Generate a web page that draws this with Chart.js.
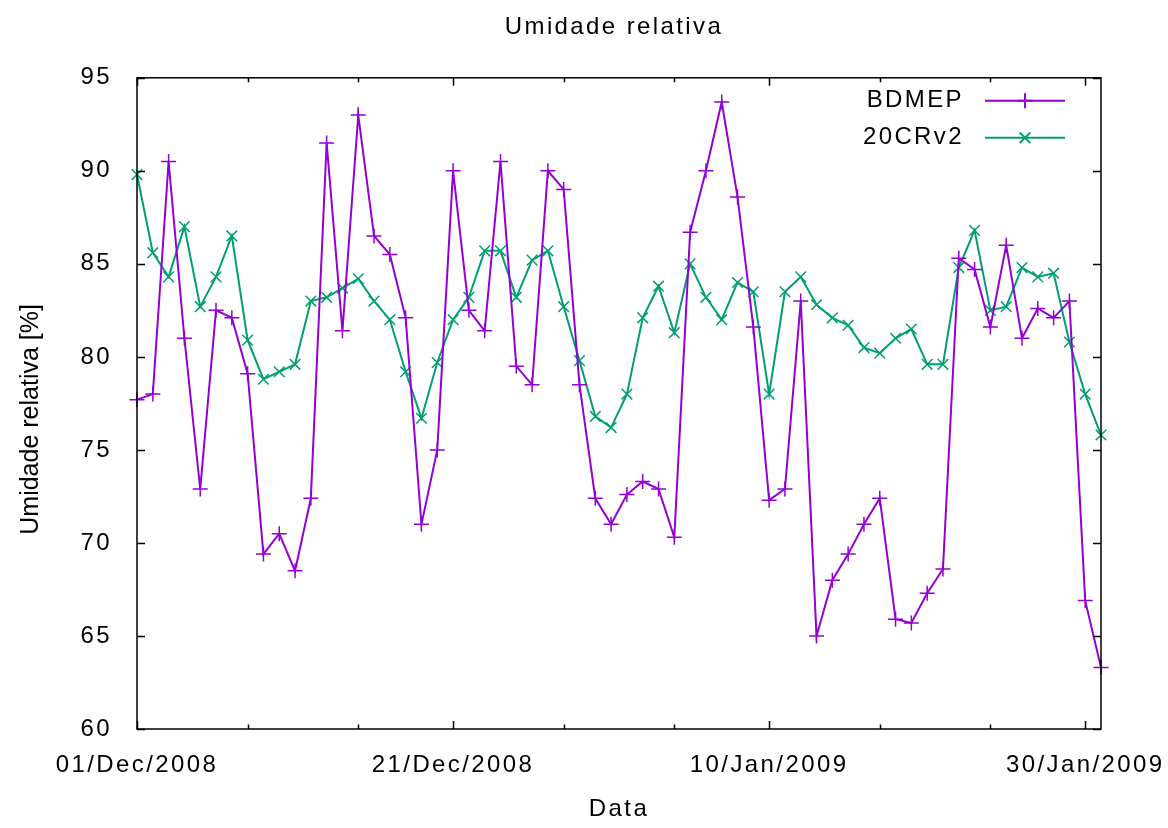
<!DOCTYPE html>
<html>
<head>
<meta charset="utf-8">
<script src="https://cdn.jsdelivr.net/npm/chart.js@4/dist/chart.umd.min.js"></script>
<style>
  html, body { margin: 0; padding: 0; background: #fff; }
  #wrap { width: 1168px; height: 828px; }
</style>
</head>
<body>
<div id="wrap"><canvas id="rh-chart"></canvas></div>
<script>
// Daily values, 01/Dec/2008 .. 31/Jan/2009
const bdmep = [
  77.7, 78.0, 90.5, 81.0, 72.9, 82.5, 82.1, 79.1, 69.4, 70.5,
  68.5, 72.4, 91.5, 81.4, 93.0, 86.5, 85.5, 82.1, 71.0, 75.0,
  90.0, 82.5, 81.4, 90.5, 79.5, 78.5, 90.0, 89.0, 78.5, 72.4,
  71.0, 72.6, 73.3, 72.9, 70.3, 86.7, 90.0, 93.7, 88.6, 81.6,
  72.3, 72.9, 83.0, 65.0, 68.0, 69.4, 71.0, 72.4, 65.9, 65.7,
  67.3, 68.6, 85.3, 84.7, 81.6, 86.0, 81.0, 82.6, 82.1, 83.0,
  66.9, 63.3
];
const cr20v2 = [
  89.8, 85.6, 84.3, 87.0, 82.7, 84.3, 86.5, 80.9, 78.8, 79.2,
  79.6, 83.0, 83.2, 83.7, 84.2, 83.0, 82.0, 79.2, 76.7, 79.7,
  82.0, 83.2, 85.7, 85.7, 83.2, 85.2, 85.7, 82.7, 79.8, 76.8,
  76.2, 78.0, 82.1, 83.8, 81.3, 85.0, 83.2, 82.0, 84.0, 83.5,
  78.0, 83.5, 84.3, 82.8, 82.1, 81.7, 80.5, 80.2, 81.0, 81.5,
  79.6, 79.6, 84.8, 86.8, 82.5, 82.7, 84.8, 84.3, 84.5, 80.8,
  78.0, 75.8
];
const seriesNames = ["BDMEP", "20CRv2"];

// categories: one label per day
const dates = [];
for (let d = 1; d <= 31; d++) dates.push(String(d).padStart(2, "0") + "/Dec/2008");
for (let d = 1; d <= 31; d++) dates.push(String(d).padStart(2, "0") + "/Jan/2009");

// x ticks (gnuplot style: labelled every 20 days, minor marks in between)
const majorTicks = [0, 20, 40, 60];
const minorTicks = [7, 14, 27, 34, 47, 54];
const yTicks = [60, 65, 70, 75, 80, 85, 90, 95];

const FONT = "'Liberation Sans', Arial, sans-serif";
const SPACING = "2.4px";

// gnuplot text is a little wider than the plain font; the rotated label is not
const textStyle = {
  id: "textStyle",
  beforeDraw(chart) {
    chart.ctx.letterSpacing = SPACING;
    const ys = chart.scales.y;
    if (!ys._plainTitle) {
      const orig = ys.drawTitle.bind(ys);
      ys.drawTitle = function () {
        const c = this.ctx;
        c.save();
        c.letterSpacing = "0px";
        c.translate(0, 16);
        orig();
        c.restore();
      };
      ys._plainTitle = true;
    }
    const tb = chart.titleBlock;
    if (tb && !tb._shifted) {
      const origT = tb.draw.bind(tb);
      tb.draw = function () {
        const c = this.ctx;
        c.save();
        const a = chart.chartArea;
        c.translate((a.left + a.right) / 2 - 5 - (this.left + this.right) / 2, 0);
        origT();
        c.restore();
      };
      tb._shifted = true;
    }
  }
};

// box + inward tick marks like gnuplot
const frameTicks = {
  id: "frameTicks",
  afterDatasetsDraw(chart) {
    const { ctx, chartArea: a, scales } = chart;
    const x = scales.x, y = scales.y;
    ctx.save();
    ctx.strokeStyle = "#000";
    ctx.lineWidth = 1.5;
    ctx.beginPath();
    majorTicks.concat(minorTicks).forEach(v => {
      const px = Math.round(x.getPixelForValue(v)) + 0.5;
      const len = majorTicks.includes(v) ? 8 : 4.5;
      ctx.moveTo(px, a.bottom); ctx.lineTo(px, a.bottom - len);
      ctx.moveTo(px, a.top); ctx.lineTo(px, a.top + len);
    });
    yTicks.forEach(v => {
      const py = Math.round(y.getPixelForValue(v)) + 0.5;
      ctx.moveTo(a.left, py); ctx.lineTo(a.left + 8, py);
      ctx.moveTo(a.right, py); ctx.lineTo(a.right - 8, py);
    });
    ctx.stroke();
    ctx.strokeRect(a.left, a.top, a.right - a.left, a.bottom - a.top);
    ctx.restore();
  }
};

// key in the top right corner: text, then a sample line with its marker
const gnuKey = {
  id: "gnuKey",
  afterDatasetsDraw(chart) {
    const { ctx, chartArea: a } = chart;
    ctx.save();
    ctx.font = "24px " + FONT;
    ctx.textAlign = "right";
    ctx.textBaseline = "middle";
    chart.data.datasets.forEach((ds, i) => {
      const yy = a.top + 23 + i * 37;
      ctx.fillStyle = "#000";
      ctx.fillText(ds.label, a.right - 137, yy);
      ctx.strokeStyle = ds.borderColor;
      ctx.lineWidth = ds.borderWidth;
      ctx.beginPath();
      ctx.moveTo(a.right - 116, yy);
      ctx.lineTo(a.right - 36, yy);
      ctx.stroke();
      Chart.helpers.drawPoint(ctx, {
        pointStyle: ds.pointStyle, radius: ds.pointRadius, rotation: 0,
        borderWidth: ds.pointBorderWidth
      }, a.right - 76, yy);
    });
    ctx.restore();
  }
};

function initChart() {
  const ctx = document.getElementById("rh-chart").getContext("2d");
  new Chart(ctx, {
    type: "line",
    data: {
      labels: dates,
      datasets: [
        {
          label: seriesNames[0],
          data: bdmep,
          borderColor: "#9400d3",
          backgroundColor: "#9400d3",
          borderWidth: 2,
          pointStyle: "cross",
          pointRadius: 7.5,
          pointBorderWidth: 1.5,
          tension: 0
        },
        {
          label: seriesNames[1],
          data: cr20v2,
          borderColor: "#009e73",
          backgroundColor: "#009e73",
          borderWidth: 2,
          pointStyle: "crossRot",
          pointRadius: 7.5,
          pointBorderWidth: 1.5,
          tension: 0
        }
      ]
    },
    options: {
      responsive: true,
      maintainAspectRatio: false,
      animation: false,
      layout: { padding: { left: 0, right: 67, top: 0, bottom: 0 } },
      plugins: {
        legend: { display: false },
        tooltip: { enabled: false },
        title: {
          display: true,
          text: "Umidade relativa",
          color: "#000",
          font: { family: FONT, size: 24, weight: "normal" },
          padding: { top: 13, bottom: 36 }
        }
      },
      scales: {
        x: {
          type: "category",
          offset: false,
          grid: { display: false, drawTicks: false },
          border: { display: false },
          afterBuildTicks(scale) {
            scale.ticks = majorTicks.map(v => ({ value: v }));
          },
          afterFit(scale) {
            scale.height = 99;
            scale.paddingLeft = 0;
            scale.paddingRight = 0;
          },
          ticks: {
            autoSkip: false,
            maxRotation: 0,
            padding: 22,
            color: "#000",
            font: { family: FONT, size: 24 },
            callback(v) { return this.getLabelForValue(v); }
          },
          title: {
            display: true,
            text: "Data",
            color: "#000",
            font: { family: FONT, size: 24 },
            padding: { top: 0, bottom: 4 }
          }
        },
        y: {
          min: 60,
          max: 95,
          grid: { display: false, drawTicks: false },
          border: { display: false },
          afterFit(scale) { scale.width = 137; },
          ticks: {
            stepSize: 5,
            padding: 25,
            color: "#000",
            font: { family: FONT, size: 24 }
          },
          title: {
            display: true,
            text: "Umidade relativa [%]",
            color: "#000",
            font: { family: FONT, size: 25 },
            padding: { top: 16, bottom: 0 }
          }
        }
      }
    },
    plugins: [textStyle, frameTicks, gnuKey]
  });
}

document.addEventListener("DOMContentLoaded", initChart);
</script>
</body>
</html>
